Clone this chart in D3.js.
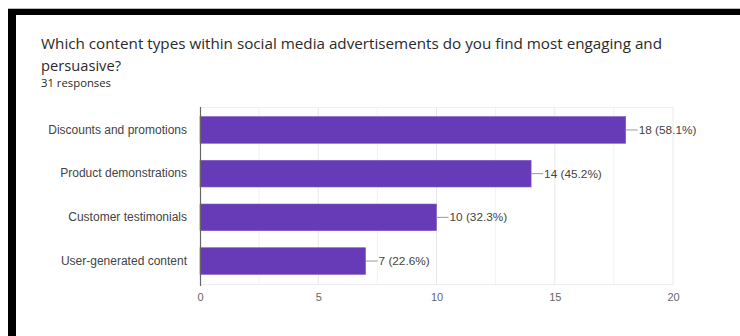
<!DOCTYPE html>
<html>
<head>
<meta charset="utf-8">
<script src="https://cdn.jsdelivr.net/npm/d3@7"></script>
<style>
  html, body { margin: 0; padding: 0; background: #fff; }
  svg { display: block; }
</style>
</head>
<body>
<svg id="chart" width="740" height="336"></svg>
<script>
// Survey question and response summary
const titleLines = [
  "Which content types within social media advertisements do you find most engaging and",
  "persuasive?"
];
const responsesLabel = "31 responses";

// Answer options and how many respondents picked each
const categories = [
  "Discounts and promotions",
  "Product demonstrations",
  "Customer testimonials",
  "User-generated content"
];
const counts = [18, 14, 10, 7];
const percentLabels = ["58.1%", "45.2%", "32.3%", "22.6%"];

// Axis ticks
const xTicks = [0, 5, 10, 15, 20];
const xMinorTicks = [2.5, 7.5, 12.5, 17.5];

const svg = d3.select("#chart");
const W = 740, H = 336;
const labelFont = "'Liberation Sans', Arial, sans-serif";
const headFont = "'Open Sans', Roboto, sans-serif";

svg.append("rect").attr("width", W).attr("height", H).attr("fill", "#fff");

// Card frame: thin grey rule above a black band, black left edge
svg.append("rect").attr("x", 8).attr("y", 8).attr("width", W - 8).attr("height", 1).attr("fill", "#bbb");
svg.append("rect").attr("x", 8).attr("y", 9).attr("width", W - 8).attr("height", 6).attr("fill", "#000");
svg.append("rect").attr("x", 8).attr("y", 9).attr("width", 8).attr("height", H - 9).attr("fill", "#000");

// Heading, stretched slightly wider than the font's natural advance
const headWidths = [621, 80];
titleLines.forEach((t, i) => {
  svg.append("text")
    .attr("x", 41).attr("y", 49 + i * 22)
    .attr("font-family", headFont)
    .attr("font-size", 14.5)
    .attr("fill", "#2a2a2a")
    .attr("textLength", headWidths[i])
    .attr("lengthAdjust", "spacingAndGlyphs")
    .text(t);
});
svg.append("text")
  .attr("x", 41).attr("y", 87)
  .attr("font-family", headFont)
  .attr("font-size", 10.5)
  .attr("fill", "#2a2a2a")
  .attr("textLength", 70)
  .attr("lengthAdjust", "spacingAndGlyphs")
  .text(responsesLabel);

// Plot area
const plot = { left: 200, right: 673, top: 107, bottom: 284 };

const x = d3.scaleLinear().domain([0, 20]).range([plot.left, plot.right]);
const y = d3.scaleBand()
  .domain(categories)
  .range([plot.top, plot.bottom])
  .paddingInner(0.39)
  .paddingOuter(0.22);

const g = svg.append("g");

// Grid lines
g.selectAll("line.minor").data(xMinorTicks).join("line")
  .attr("class", "minor")
  .attr("x1", d => x(d)).attr("x2", d => x(d))
  .attr("y1", plot.top).attr("y2", plot.bottom)
  .attr("stroke", "#f3f3f3").attr("stroke-width", 1);
g.selectAll("line.major").data(xTicks.slice(1)).join("line")
  .attr("class", "major")
  .attr("x1", d => x(d)).attr("x2", d => x(d))
  .attr("y1", plot.top).attr("y2", plot.bottom)
  .attr("stroke", "#e8e8e8").attr("stroke-width", 1);
g.append("line")
  .attr("x1", plot.left).attr("x2", plot.right)
  .attr("y1", plot.top + 0.5).attr("y2", plot.top + 0.5)
  .attr("stroke", "#f0f0f0");
g.append("line")
  .attr("x1", plot.left).attr("x2", plot.right)
  .attr("y1", plot.bottom + 0.5).attr("y2", plot.bottom + 0.5)
  .attr("stroke", "#ececec");

// Bars
g.selectAll("rect.bar").data(categories).join("rect")
  .attr("class", "bar")
  .attr("x", x(0))
  .attr("y", d => y(d))
  .attr("width", (d, i) => x(counts[i]) - x(0))
  .attr("height", y.bandwidth())
  .attr("fill", "#673ab7")
  .attr("stroke", "#7e57c2")
  .attr("stroke-width", 0.6);

// Value leaders and labels
g.selectAll("line.leader").data(categories).join("line")
  .attr("class", "leader")
  .attr("x1", (d, i) => x(counts[i]))
  .attr("x2", (d, i) => x(counts[i]) + 12)
  .attr("y1", d => y(d) + y.bandwidth() / 2)
  .attr("y2", d => y(d) + y.bandwidth() / 2)
  .attr("stroke", "#999").attr("stroke-width", 1);
g.selectAll("text.value").data(categories).join("text")
  .attr("class", "value")
  .attr("x", (d, i) => x(counts[i]) + 13)
  .attr("y", d => y(d) + y.bandwidth() / 2)
  .attr("dy", "0.35em")
  .attr("font-family", labelFont)
  .attr("font-size", 11.8)
  .attr("fill", "#444")
  .text((d, i) => `${counts[i]} (${percentLabels[i]})`);

// Category axis
const yAxis = g.append("g")
  .attr("transform", `translate(${plot.left},0)`)
  .call(d3.axisLeft(y).tickSize(0).tickPadding(13));
yAxis.select(".domain").remove();
yAxis.selectAll("text")
  .attr("font-family", labelFont)
  .attr("font-size", 12)
  .attr("fill", "#444");

// Vertical baseline at zero
g.append("line")
  .attr("x1", plot.left + 0.5).attr("x2", plot.left + 0.5)
  .attr("y1", plot.top).attr("y2", plot.bottom + 2)
  .attr("stroke", "#666").attr("stroke-width", 1.2);

// Value axis labels
const xAxis = g.append("g")
  .attr("transform", `translate(0,${plot.bottom})`)
  .call(d3.axisBottom(x).tickValues(xTicks).tickSize(0).tickPadding(9).tickFormat(d3.format("d")));
xAxis.select(".domain").remove();
xAxis.selectAll("text")
  .attr("font-family", labelFont)
  .attr("font-size", 11)
  .attr("fill", "#666");
</script>
</body>
</html>
